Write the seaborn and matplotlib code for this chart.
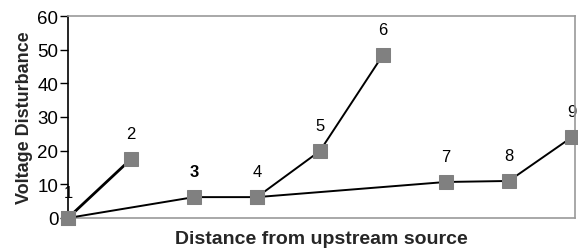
import numpy as np
import pandas as pd
import seaborn as sns
import matplotlib.pyplot as plt

# node positions along the feeder and their disturbance values
node_labels = ["1", "2", "3", "4", "5", "6", "7", "8", "9"]
node_x = [0, 1, 2, 3, 4, 5, 6, 7, 8]
node_y = [0, 17.5, 6.2, 6.2, 19.9, 48.4, 10.7, 11.0, 24.0]

# branches of the network (node indices)
branch_a = [0, 1]
branch_b = [0, 2, 3, 4, 5]
branch_c = [3, 6, 7, 8]

sns.set_theme(style="white")
plt.rcParams['font.family'] = ['Liberation Sans', 'DejaVu Sans']

fig = plt.figure(figsize=(5.78, 2.53), dpi=100)
ax = fig.add_axes([0.1176, 0.1344, 0.8772, 0.7984])

for br, lw in [(branch_a, 2.0), (branch_b, 1.4), (branch_c, 1.4)]:
    df = pd.DataFrame({"x": [node_x[i] for i in br], "y": [node_y[i] for i in br]})
    sns.lineplot(data=df, x="x", y="y", sort=False, color="black", lw=lw, ax=ax,
                 marker="s", markersize=9.5, markerfacecolor="#808080",
                 markeredgecolor="#808080", clip_on=False, zorder=3)

for lab, x, y in zip(node_labels, node_x, node_y):
    # node 3 label is printed twice in the original, so it looks heavier
    ax.text(x, y + 7.5, lab, ha="center", va="center", fontsize=12, color="black",
            fontweight="bold" if lab == "3" else "normal", zorder=1)

ax.set_xlim(0, 8.05)
ax.set_ylim(0, 60)
ax.set_yticks(np.arange(0, 61, 10))
ax.set_xticks([])
ax.tick_params(axis="y", labelsize=13.5, length=6, width=1, direction="out",
               left=True, pad=1, colors="black")
for side in ["top", "right", "bottom"]:
    ax.spines[side].set_color("#999999")
    ax.spines[side].set_linewidth(1.2)
ax.spines["left"].set_color("black")
ax.spines["left"].set_linewidth(1.2)

ax.set_ylabel("Voltage Disturbance", fontsize=13, fontweight="bold", labelpad=3)
ax.set_xlabel("Distance from upstream source", fontsize=14, fontweight="bold",
              labelpad=9)

plt.savefig("out.png", dpi=100)
